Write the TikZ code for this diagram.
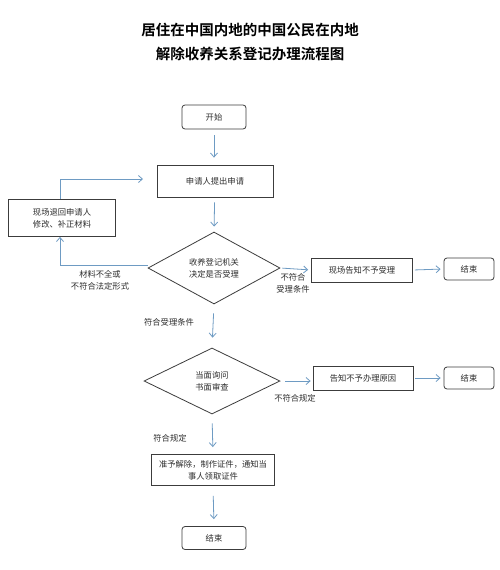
\documentclass[tikz,border=0pt]{standalone}
\usepackage{fontspec}
\setmainfont{Noto Sans CJK SC}
\newfontfamily\cjkbold{Noto Sans CJK SC}[BoldFont={* Bold}]
\usetikzlibrary{arrows.meta,shapes.geometric}
\definecolor{arrowblue}{RGB}{110,155,195}
\definecolor{boxline}{RGB}{60,60,60}
\definecolor{txt}{RGB}{45,45,45}
\begin{document}
\begin{tikzpicture}[x=1pt,y=-1pt,
  every node/.style={font=\fontsize{8.3}{12}\selectfont, text=txt},
  proc/.style={draw=boxline, line width=0.8pt, minimum height=#1, inner sep=2pt, align=center},
  proc/.default=24pt,
  term/.style={draw=boxline, line width=0.8pt, rounded corners=3pt, minimum width=#1, minimum height=22pt, inner sep=0pt},
  term/.default=50pt,
  dec/.style={draw=boxline, line width=0.8pt, diamond, aspect=2, inner sep=0pt, align=center},
  lbl/.style={align=center, inner sep=1pt},
  flow/.style={draw=arrowblue, line width=0.8pt, -{Straight Barb[length=4pt,width=7pt]}}
]
\useasboundingbox (0,0) rectangle (500,570);
\fill[white] (0,0) rectangle (500,570);

\node[font=\cjkbold\bfseries\fontsize{14.5}{18}\selectfont, text=black, align=center] (title) at (250,42)
  {居住在中国内地的中国公民在内地\\[6pt]解除收养关系登记办理流程图};

\node[term=64pt, minimum height=24pt] (start) at (214,117) {开始};
\node[proc=32pt, minimum width=116pt] (apply) at (215,181) {申请人提出申请};
\node[dec, minimum width=132pt, minimum height=72pt] (d1) at (214,268) {收养登记机关\\决定是否受理};
\node[proc=37pt, minimum width=107pt] (ret) at (62,218) {现场退回申请人\\修改、补正材料};
\node[proc=24pt, minimum width=101pt] (rej1) at (362,270) {现场告知不予受理};
\node[term] (end1) at (469,269) {结束};
\node[dec, minimum width=136pt, minimum height=66pt] (d2) at (212,381) {当面询问\\书面审查};
\node[proc=24pt, minimum width=100pt] (rej2) at (363,378) {告知不予办理原因};
\node[term] (end2) at (469,378) {结束};
\node[proc=31pt, minimum width=123pt] (ok) at (213,470) {准予解除，制作证件，通知当\\事人领取证件};
\node[term=64pt, minimum height=23pt] (end3) at (214,538) {结束};

\coordinate (rb) at (60,265);
\coordinate (rt) at (60,179);
\coordinate (ra) at (143,179);

\draw[flow, shorten <=6pt, shorten >=7pt] (start) -- (start |- apply.north);
\draw[flow, shorten <=5pt, shorten >=5pt] (apply) -- (d1.north);
\draw[flow] (d1.west |- rb) -- (rb) -- (ret.south -| rb);
\draw[flow] (ret.north -| rt) -- (rt) -- (ra);
\draw[flow, shorten <=2pt, shorten >=3pt] (d1.east) -- (rej1.west);
\draw[flow, shorten <=2pt, shorten >=3pt] (rej1.east) -- (end1.west);
\draw[flow, shorten <=9pt, shorten >=10pt] (d1.south) -- (d2.north);
\draw[flow, shorten <=5pt, shorten >=2pt] (d2.east) -- (rej2.west |- d2.east);
\draw[flow, shorten <=2pt, shorten >=3pt] (rej2.east) -- (end2.west);
\draw[flow, shorten <=9pt, shorten >=7pt] (d2.south) -- (ok.north);
\draw[flow, shorten <=10pt, shorten >=7pt] (ok.south) -- (end3.north);

\node[lbl] (l1) at (100,280) {材料不全或\\不符合法定形式};
\node[lbl] (l2) at (293,283) {不符合\\受理条件};
\node[lbl] (l3) at (169,322) {符合受理条件};
\node[lbl] (l4) at (295,398) {不符合规定};
\node[lbl] (l5) at (170,438) {符合规定};
\end{tikzpicture}
\end{document}
